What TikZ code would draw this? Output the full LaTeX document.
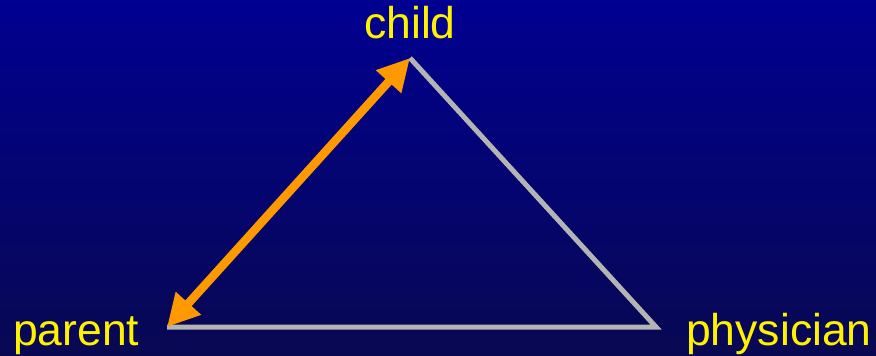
\documentclass[tikz,border=0pt]{standalone}
\usepackage{fontspec}
\setmainfont{Liberation Sans}
\usetikzlibrary{arrows.meta}
\definecolor{bgTop}{RGB}{0,0,145}
\definecolor{bgBottom}{RGB}{8,8,82}
\definecolor{edgeGray}{RGB}{180,180,180}
\definecolor{linkOrange}{RGB}{255,153,0}
\tikzset{
  vertexLabel/.style={anchor=base west, inner sep=0pt, text=yellow, font=\fontsize{44.5}{50}\selectfont},
  sideEdge/.style={draw=edgeGray, line width=5pt, line join=miter},
  bondArrow/.style={draw=linkOrange, line width=8.5pt, {Triangle[length=32pt,width=32pt]}-{Triangle[length=32pt,width=32pt]}}
}

\begin{document}
\begin{tikzpicture}[x=1pt,y=-1pt]
\shade[top color=bgTop, bottom color=bgBottom] (0,0) rectangle (876,356);
\useasboundingbox (0,0) rectangle (876,356);
\node[vertexLabel, anchor=base] (childLabel) at (410,38) {child};
\node[vertexLabel] (parentLabel) at (13,345) {parent};
\node[vertexLabel] (physicianLabel) at (686,345) {physician};
\coordinate (childPt) at (410,58);
\coordinate (parentPt) at (167,327);
\coordinate (physicianPt) at (656,327);
\draw[sideEdge] (childPt) -- (physicianPt) -- (parentPt);
\draw[bondArrow] (parentPt) -- (childPt);
\end{tikzpicture}
\end{document}
